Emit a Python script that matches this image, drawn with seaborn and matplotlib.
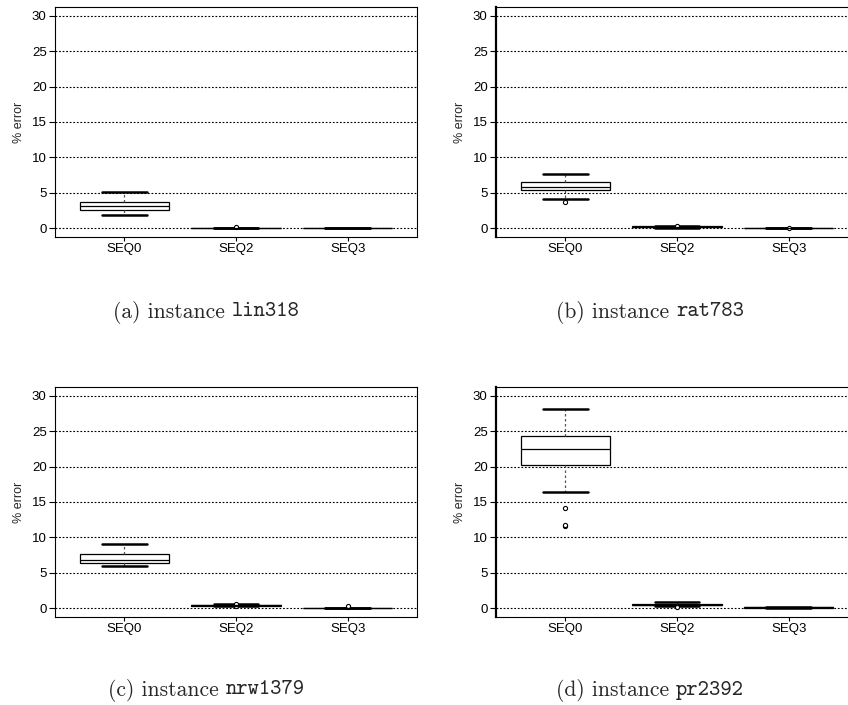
import numpy as np
import pandas as pd
import matplotlib
matplotlib.use("Agg")
import matplotlib.pyplot as plt
import seaborn as sns

sns.set_theme(style="white")
plt.rcParams['font.family'] = ['Liberation Sans', 'DejaVu Sans']

categories = ["SEQ0", "SEQ2", "SEQ3"]
yticks = [0, 5, 10, 15, 20, 25, 30]

# % error samples per instance and method (read as box summaries)
lin318_seq0 = [1.87, 2.3, 2.58, 2.9, 3.2, 3.5, 3.76, 4.4, 5.1]
lin318_seq2 = [0.0, 0.0, 0.0, 0.0, 0.0, 0.0, 0.0, 0.0, 0.15]
lin318_seq3 = [0.0, 0.0, 0.0, 0.0, 0.0, 0.0, 0.0, 0.0, 0.0]

rat783_seq0 = [3.78, 4.16, 5.45, 5.6, 5.8, 6.2, 6.6, 7.1, 7.62]
rat783_seq2 = [0.1, 0.15, 0.2, 0.22, 0.24, 0.26, 0.28, 0.35, 0.4]
rat783_seq3 = [0.0, 0.0, 0.0, 0.0, 0.0, 0.0, 0.0, 0.0, 0.1]

nrw1379_seq0 = [6.04, 6.3, 6.46, 6.7, 6.89, 7.2, 7.64, 8.4, 9.1]
nrw1379_seq2 = [0.28, 0.35, 0.42, 0.44, 0.46, 0.48, 0.5, 0.6, 0.7]
nrw1379_seq3 = [0.05, 0.07, 0.08, 0.09, 0.1, 0.11, 0.12, 0.22, 0.35]

pr2392_seq0 = [11.6, 11.7, 14.15, 16.46, 20.19, 20.8, 21.4, 21.9, 22.4,
               22.9, 23.4, 23.8, 24.25, 25.0, 26.0, 27.0, 28.07]
pr2392_seq2 = [0.15, 0.3, 0.5, 0.53, 0.55, 0.6, 0.65, 0.75, 0.85]
pr2392_seq3 = [0.02, 0.06, 0.1, 0.12, 0.14, 0.15, 0.17, 0.2, 0.24]

instances = ["lin318", "rat783", "nrw1379", "pr2392"]
panel_letters = ["a", "b", "c", "d"]
series = {
    "lin318": [lin318_seq0, lin318_seq2, lin318_seq3],
    "rat783": [rat783_seq0, rat783_seq2, rat783_seq3],
    "nrw1379": [nrw1379_seq0, nrw1379_seq2, nrw1379_seq3],
    "pr2392": [pr2392_seq0, pr2392_seq2, pr2392_seq3],
}

W, H = 848, 705
fig = plt.figure(figsize=(W / 100, H / 100), dpi=100)
renderer = fig.canvas.get_renderer()

aw, ah = 362, 230
positions = [(55, 7), (496, 7), (55, 387), (496, 387)]
caption_pos = [(206, 312), (650, 312), (206, 690), (650, 690)]
cap_fs = 15.5

for i, inst in enumerate(instances):
    px, py = positions[i]
    ax = fig.add_axes([px / W, 1 - (py + ah) / H, aw / W, ah / H])
    rows = []
    for cat, vals in zip(categories, series[inst]):
        for v in vals:
            rows.append({"method": cat, "error": v})
    df = pd.DataFrame(rows)
    for y in yticks:
        ax.axhline(y, color="black", lw=0.8, ls=(0, (1.6, 1.6)), zorder=0)
    sns.boxplot(data=df, x="method", y="error", order=categories, ax=ax,
                width=0.8, whis=1.4, color="white", linecolor="black",
                linewidth=0.9,
                boxprops=dict(facecolor="white", edgecolor="black", linewidth=0.9, zorder=2),
                whiskerprops=dict(color="#555555", linestyle=(0, (2, 2)), linewidth=0.9),
                capprops=dict(color="black", linewidth=1.8),
                medianprops=dict(color="black", linewidth=0.9),
                flierprops=dict(marker="o", markersize=3, markerfacecolor="white",
                                markeredgecolor="black", markeredgewidth=0.8))
    # caps half the box width
    for ln in ax.lines:
        xd = np.asarray(ln.get_xdata(), dtype=float)
        yd = np.asarray(ln.get_ydata(), dtype=float)
        if len(xd) == 2 and yd[0] == yd[1] and abs(xd[1] - xd[0]) > 0 and ln.get_linewidth() > 1.5:
            c = (xd[0] + xd[1]) / 2
            ln.set_xdata([c - 0.2, c + 0.2])
    ax.set_xlim(-0.62, 2.62)
    ax.set_ylim(-1.2, 31.2)
    ax.set_yticks(yticks)
    ax.set_yticklabels([str(t) for t in yticks])
    ax.set_xlabel("")
    ax.set_ylabel("% error", fontsize=9, labelpad=5)
    ax.tick_params(axis="y", left=True, length=4, width=0.8, labelsize=9.5, pad=2, colors="black")
    ax.tick_params(axis="x", bottom=True, length=3, width=0.8, labelsize=9.5, pad=1, colors="black")
    ax.grid(False)
    for s in ax.spines.values():
        s.set_color("black")
        s.set_linewidth(0.8)
    if i in (1, 3):
        ax.spines["left"].set_linewidth(1.6)

    # caption: roman prefix + typewriter instance name
    cx, cy = caption_pos[i]
    t1 = fig.text(0, 1 - cy / H, "(%s) instance" % panel_letters[i],
                  family="cmr10", fontsize=cap_fs, ha="left", va="center")
    t2 = fig.text(0, 1 - cy / H, inst,
                  family="cmtt10", fontsize=cap_fs, ha="left", va="center")
    w1 = t1.get_window_extent(renderer).width
    w2 = t2.get_window_extent(renderer).width
    space = 0.333 * cap_fs * 100 / 72
    total = w1 + space + w2
    x0 = cx - total / 2
    t1.set_x(x0 / W)
    t2.set_x((x0 + w1 + space) / W)

fig.savefig("out.png", dpi=100)
